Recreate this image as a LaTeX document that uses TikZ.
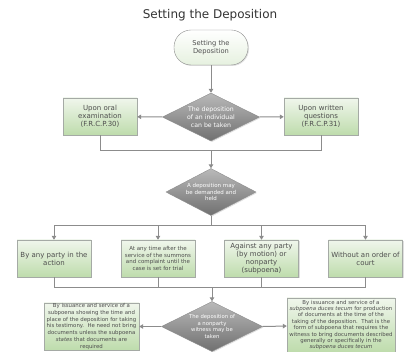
\documentclass[tikz,border=0pt]{standalone}
\usepackage{fontspec}
\setmainfont{DejaVu Sans}
\usepackage{xcolor}
\usepackage{tikz}
\usetikzlibrary{arrows.meta, shapes.geometric, shadows}
\definecolor{boxtop}{RGB}{240,246,236}
\definecolor{boxbot}{RGB}{190,220,172}
\definecolor{boxline}{RGB}{165,170,165}
\definecolor{dectop}{RGB}{185,185,185}
\definecolor{decbot}{RGB}{112,112,112}
\definecolor{linegray}{RGB}{140,140,140}
\definecolor{txtgray}{RGB}{78,78,78}
\begin{document}
\begin{tikzpicture}[x=1pt, y=-1pt,
    box/.style={draw=boxline, top color=boxtop, bottom color=boxbot, minimum width=74pt, minimum height=37pt,
      inner sep=1pt, align=center, text=txtgray, font=\fontsize{7}{8}\selectfont,
      drop shadow={shadow xshift=1pt, shadow yshift=-1pt, opacity=0.25}},
    dec/.style={diamond, aspect=2, inner sep=0pt, draw=decbot!80, top color=dectop, bottom color=decbot,
      text=white, align=center, drop shadow={shadow xshift=1pt, shadow yshift=-1pt, opacity=0.25}},
    line/.style={draw=linegray, line width=1pt},
    arr/.style={line, -{Triangle[length=4pt, width=4.5pt]}}]
    \useasboundingbox (0,0) rectangle (413,352);
    \node[text=black!80, font=\fontsize{12}{14}\selectfont] (title) at (210,15) {Setting the Deposition};
    \node[draw=linegray, rounded corners=17pt, top color=white, bottom color=boxtop!80!boxbot, minimum width=74pt,
      minimum height=35pt, align=center, text=txtgray, font=\fontsize{6.7}{8}\selectfont,
      drop shadow={shadow xshift=1pt, shadow yshift=-1pt, opacity=0.25}] (start) at (211,47.5) {Setting the\\Deposition};
    % first decision
    \node[dec, minimum width=97pt, minimum height=48pt, font=\fontsize{6.2}{8}\selectfont] (d1) at (211,117)
      {The deposition\\of an individual\\can be taken};
    \node[box] (oral) at (100,116.5) {Upon oral\\examination\\(F.R.C.P.30)};
    \node[box] (written) at (321,116.5) {Upon written\\questions\\(F.R.C.P.31)};
    \coordinate (j1) at (211,151);
    % second decision
    \node[dec, minimum width=90pt, minimum height=47pt, font=\fontsize{5.5}{6.2}\selectfont] (d2) at (211,192)
      {A deposition may\\be demanded and\\held};
    \coordinate (j2) at (211,226);
    \node[box] (any) at (54,258.5) {By any party in the\\action};
    \node[box, font=\fontsize{5.5}{6.7}\selectfont] (time) at (158,258.5)
      {At any time after the\\service of the summons\\and complaint until the\\case is set for trial};
    \node[box] (against) at (261.5,258.5) {Against any party\\(by motion) or\\nonparty\\(subpoena)};
    \node[box] (order) at (365.5,258.5) {Without an order of\\court};
    \coordinate (j3) at (212,288);
    % third decision
    \node[dec, minimum width=101pt, minimum height=50pt, font=\fontsize{5.3}{6.7}\selectfont] (d3) at (212,326.5)
      {The deposition of\\a nonparty\\witness may be\\taken};
    \node[box, minimum width=95pt, minimum height=47pt, font=\fontsize{5.4}{6.7}\selectfont] (bl) at (91.5,326.5)
      {By issuance and service of a\\subpoena showing the time and\\place of the deposition for taking\\his testimony.\ \ He need not bring\\documents unless the subpoena\\\textit{states} that documents are\\required};
    \node[box, minimum width=108pt, minimum height=54pt, font=\fontsize{5.4}{6.4}\selectfont] (br) at (341,325)
      {By issuance and service of a\\\textit{subpoena duces tecum} for production\\of documents at the time of the\\taking of the deposition.\ \ That is the\\form of subpoena that requires the\\witness to bring documents described\\generally or specifically in the\\\textit{subpoena duces tecum}};
    \draw[arr] (start) -- (d1);
    \draw[arr] (d1.west) -- (oral);
    \draw[arr] (d1.east) -- (written);
    \draw[line] (oral.south) |- (j1);
    \draw[line] (written.south) |- (j1);
    \draw[arr] (j1) -- (d2);
    \draw[line] (d2) -- (j2);
    \draw[arr] (j2) -| (any);
    \draw[arr] (j2) -| (time);
    \draw[arr] (j2) -| (against);
    \draw[arr] (j2) -| (order);
    \draw[line] (any.south) |- (j3);
    \draw[line] (time.south) |- (j3);
    \draw[line] (against.south) |- (j3);
    \draw[line] (order.south) |- (j3);
    \draw[arr] (j3) -- (d3);
    \draw[arr] (d3.west) -- (bl);
    \draw[arr] (d3.east) -- (br);
  \end{tikzpicture}
\end{document}
